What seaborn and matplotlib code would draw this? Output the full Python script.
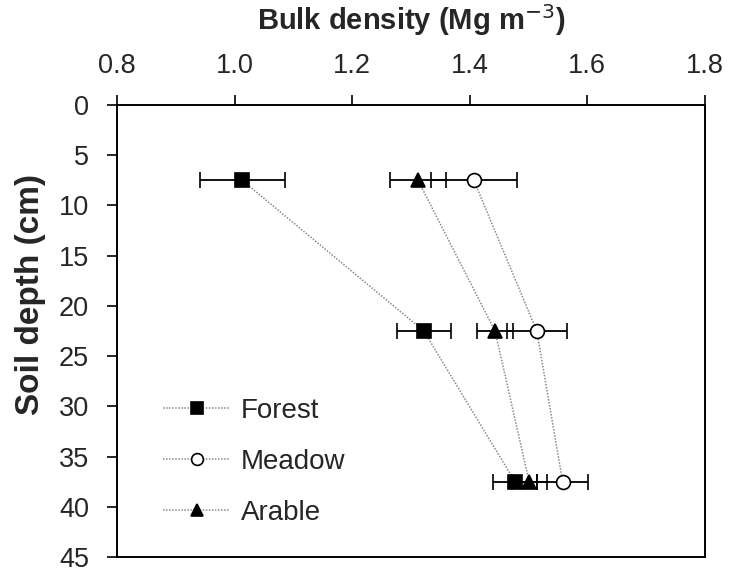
import matplotlib
matplotlib.use("Agg")
import matplotlib.pyplot as plt
import seaborn as sns
import pandas as pd
from matplotlib.lines import Line2D

# Dados: densidade do solo por profundidade
depth = [7.5, 22.5, 37.5]
sites = ["Forest", "Meadow", "Arable"]
forest = [1.013, 1.322, 1.477]
forest_err = [0.072, 0.046, 0.037]
meadow = [1.407, 1.514, 1.558]
meadow_err = [0.073, 0.051, 0.043]
arable = [1.312, 1.443, 1.501]
arable_err = [0.048, 0.030, 0.030]

x_ticks = [0.8, 1.0, 1.2, 1.4, 1.6, 1.8]
y_ticks = [0, 5, 10, 15, 20, 25, 30, 35, 40, 45]

df = pd.DataFrame({
    "site": [s for s in sites for _ in depth],
    "depth": depth * 3,
    "bd": forest + meadow + arable,
    "err": forest_err + meadow_err + arable_err,
})

sns.set_style("ticks")
plt.rcParams["font.family"] = ["Liberation Sans", "DejaVu Sans"]

markers = {"Forest": "s", "Meadow": "o", "Arable": "^"}
faces = {"Forest": "black", "Meadow": "white", "Arable": "black"}
msizes = {"Forest": 10, "Meadow": 10, "Arable": 10}

fig = plt.figure(figsize=(7.29, 5.72), dpi=100)
ax = fig.add_axes([0.1605, 0.026, 0.8065, 0.7904])

for s in sites:
    d = df[df["site"] == s]
    sns.lineplot(data=d, x="bd", y="depth", orient="y", sort=False,
                 color="#8a8a8a", linestyle=(0, (1, 1)), linewidth=1.1,
                 ax=ax, zorder=1)
    ax.errorbar(d["bd"], d["depth"], xerr=d["err"], fmt=markers[s],
                mfc=faces[s], mec="black", mew=1.2, ms=msizes[s],
                ecolor="black", elinewidth=1.3, capsize=5.5, capthick=1.3,
                zorder=3)

ax.set_xlim(0.8, 1.8)
ax.set_ylim(45, 0)
ax.set_xticks(x_ticks)
ax.set_xticklabels([f"{v:.1f}" for v in x_ticks])
ax.set_yticks(y_ticks)
ax.xaxis.tick_top()
ax.xaxis.set_label_position("top")
ax.tick_params(axis="both", direction="out", length=7, width=1.2,
               labelsize=19.5, color="black")
ax.tick_params(axis="x", pad=12)
ax.tick_params(axis="y", pad=13)
for sp in ax.spines.values():
    sp.set_linewidth(1.4)
    sp.set_color("black")

ax.set_xlabel("Bulk density (Mg m$^{\\mathrm{-3}}$)", fontsize=21, fontweight="bold")
ax.set_ylabel("Soil depth (cm)", fontsize=24, fontweight="bold")
ax.xaxis.set_label_coords(0.5, 1.165)
ax.yaxis.set_label_coords(-0.12, 0.58)

handles = [Line2D([], [], color="#8a8a8a", linestyle=(0, (1, 1)), linewidth=1.1,
                  marker=markers[s], mfc=faces[s], mec="black", mew=1.2,
                  ms=msizes[s] * 0.85)
           for s in sites]
ax.legend(handles, sites, loc="lower left", bbox_to_anchor=(0.06, 0.045),
          frameon=False, fontsize=20, handlelength=2.4, handletextpad=0.4,
          labelspacing=0.9, borderaxespad=0)

fig.savefig("out.png", dpi=100)
